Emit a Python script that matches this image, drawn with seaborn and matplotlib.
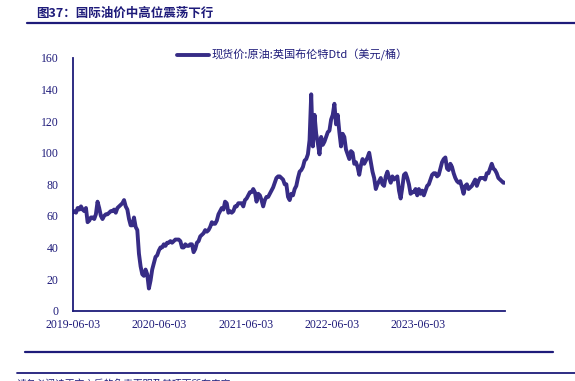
import matplotlib
matplotlib.use("Agg")
import matplotlib.pyplot as plt
import matplotlib.dates as mdates
from matplotlib.lines import Line2D
import pandas as pd
import seaborn as sns

# ---------------- data (weekly, Mondays from 2019-06-03) ----------------
start_date = "2019-06-03"
brent_2019 = [62, 63, 62, 65,
              64, 66, 64, 63, 65,
              56, 57, 59, 59,
              58, 61, 69, 65, 60,
              58, 60, 61, 61,
              62, 63, 63, 64,
              62, 65, 66, 67, 68]
brent_2020 = [70, 66, 64, 58,
              54, 54, 59, 53,
              51, 36, 28, 23, 22,
              26, 23, 14, 19,
              26, 30, 34, 35,
              38, 40, 40, 42, 41,
              43, 43, 44, 43,
              44, 45, 45, 45, 44,
              40, 40, 42, 41,
              41, 42, 42, 37,
              39, 43, 44, 47, 48,
              49, 51, 50, 51]
brent_2021 = [53, 56, 55, 55,
              57, 61, 63, 65,
              64, 69, 68, 62, 63,
              62, 63, 66, 66,
              68, 68, 68, 66, 70,
              71, 73, 75, 75,
              77, 75, 69, 74,
              73, 70, 66, 70, 72,
              72, 74, 76, 78,
              81, 84, 85, 85,
              84, 83, 80, 80, 72,
              70, 74, 73, 77]
brent_2022 = [79, 84, 88, 89, 91,
              95, 96, 99, 108,
              137, 104, 124, 112,
              106, 99, 110, 105,
              107, 110, 113, 114, 121,
              124, 131, 118, 124,
              113, 104, 112, 110,
              102, 99, 96, 101, 100,
              93, 94, 91, 86,
              92, 96, 93, 95, 97,
              100, 94, 88, 84,
              77, 80, 82, 84]
brent_2023 = [80, 79, 85, 88, 84,
              81, 85, 83, 84,
              85, 76, 71, 78,
              86, 87, 84, 80,
              74, 75, 75, 77, 73,
              77, 74, 76, 73,
              76, 79, 80, 83, 86,
              87, 87, 85, 86,
              90, 94, 96, 97,
              90, 89, 93, 91, 87,
              84, 82, 81, 82,
              78, 74, 79, 80]
brent_2024 = [77, 78, 79, 81, 83,
              79, 82, 84, 84,
              84, 83, 87, 87,
              90, 93, 90, 89, 87,
              84, 83, 82, 81,
              81]

tick_labels = ["2019-06-03", "2020-06-03", "2021-06-03", "2022-06-03", "2023-06-03"]
y_ticks = [0, 20, 40, 60, 80, 100, 120, 140, 160]
series_name = "现货价:原油:英国布伦特Dtd（美元/桶）"
title_text = "图37：国际油价中高位震荡下行"
footer_text = "请务必阅读正文之后的免责声明及其项下所有内容"

values = brent_2019 + brent_2020 + brent_2021 + brent_2022 + brent_2023 + brent_2024
dates = pd.date_range(start_date, periods=len(values), freq="7D")
df = pd.DataFrame({"date": dates, "value": values})

# ---------------- style ----------------
sns.set_theme(style="white")
plt.rcParams["font.family"] = ["Noto Sans CJK SC", "DejaVu Sans"]

NAVY = "#1e1b7a"
LINE = "#372c86"

fig = plt.figure(figsize=(5.75, 3.81), dpi=100)
ax = fig.add_axes([72.7 / 575, 1 - 310.6 / 381, (505 - 72.7) / 575, (310.6 - 58) / 381])

sns.lineplot(data=df, x="date", y="value", ax=ax, color=LINE, linewidth=2.8,
             label=series_name, legend=False)

ax.set_xlim(pd.Timestamp("2019-06-03"), pd.Timestamp("2024-06-03"))
ax.set_ylim(0, 160)
ax.set_yticks(y_ticks)
ax.set_xticks([pd.Timestamp(t) for t in tick_labels])
ax.xaxis.set_major_formatter(mdates.DateFormatter("%Y-%m-%d"))
ax.set_xlabel("")
ax.set_ylabel("")

for s in ["top", "right"]:
    ax.spines[s].set_visible(False)
for s in ["left", "bottom"]:
    ax.spines[s].set_color(NAVY)
    ax.spines[s].set_linewidth(1.3)

ax.tick_params(axis="both", direction="in", length=3, width=1, color=NAVY,
               labelcolor=NAVY, labelsize=8.5, pad=6)
ax.tick_params(axis="y", pad=10)
for lab in ax.get_xticklabels() + ax.get_yticklabels():
    lab.set_family(["Liberation Serif", "DejaVu Serif"])

leg = ax.legend(loc="center left", bbox_to_anchor=(177 / 575, 1 - 55 / 381),
                bbox_transform=fig.transFigure, frameon=False, fontsize=8,
                handlelength=2.9, handletextpad=0.25, borderpad=0, borderaxespad=0)
for t in leg.get_texts():
    t.set_color(NAVY)

# title and rules
fig.text(36 / 575, 1 - 13.3 / 381, title_text, fontsize=9, fontweight="bold",
         color=NAVY, va="center", ha="left")
fig.add_artist(Line2D([26.7 / 575, 1.0], [1 - 22.7 / 381] * 2, color=NAVY, lw=1.6,
                      transform=fig.transFigure))
fig.add_artist(Line2D([25 / 575, 553 / 575], [1 - 351.7 / 381] * 2, color=NAVY, lw=1.6,
                      transform=fig.transFigure))
fig.add_artist(Line2D([17 / 575, 1.0], [1 - 373.3 / 381] * 2, color=NAVY, lw=1.3,
                      transform=fig.transFigure))
fig.text(17 / 575, 1 - 378.5 / 381, footer_text, fontsize=7, color=NAVY,
         va="top", ha="left")

fig.savefig("out.png", dpi=100)
